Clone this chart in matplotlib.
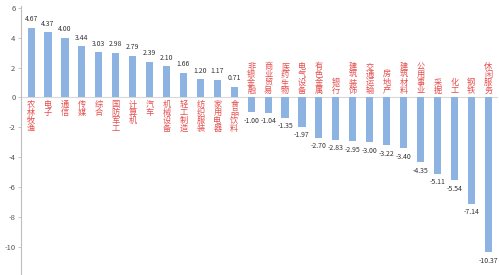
import matplotlib.pyplot as plt

plt.rcParams['font.family'] = ['Noto Sans CJK SC', 'DejaVu Sans']

# 行业名称与涨跌幅(%)
sectors = ['农林牧渔', '电子', '通信', '传媒', '综合', '国防军工', '计算机', '汽车',
           '机械设备', '轻工制造', '纺织服装', '家用电器', '食品饮料', '非银金融',
           '商业贸易', '医药生物', '电气设备', '有色金属', '银行', '建筑装饰',
           '交通运输', '房地产', '建筑材料', '公用事业', '采掘', '化工', '钢铁',
           '休闲服务']
values = [4.67, 4.37, 4.00, 3.44, 3.03, 2.98, 2.79, 2.39, 2.10, 1.66, 1.20, 1.17,
          0.71, -1.00, -1.04, -1.35, -1.97, -2.70, -2.83, -2.95, -3.00, -3.22,
          -3.40, -4.35, -5.11, -5.54, -7.14, -10.37]
y_ticks = [6, 4, 2, 0, -2, -4, -6, -8, -10]

fig = plt.figure(figsize=(4.99, 2.75), dpi=100)
ax = fig.add_axes([0.042, 0.0, 0.955, 0.977])

x = list(range(len(values)))
ax.bar(x, values, width=0.42, color='#8db3e2', zorder=2)
ax.axhline(0, color='#d9d9d9', lw=0.8, zorder=1)

pitch = 5.7  # 竖排文字每个字的间距(pt)
for i, (name, v) in enumerate(zip(sectors, values)):
    n = len(name)
    for k, ch in enumerate(name):
        if v >= 0:
            dy = -2.3 - pitch * (k + 0.5)
        else:
            dy = 2.3 + pitch * (n - k - 0.5)
        ax.annotate(ch, (i, 0), xytext=(0, dy), textcoords='offset points',
                    ha='center', va='center', color='#e64d4d', fontsize=5.9)
    if v >= 0:
        ax.text(i, v + 0.3, f'{v:.2f}', ha='center', va='bottom',
                fontsize=5, color='#333333')
    else:
        ax.text(i, v - 0.3, f'{v:.2f}', ha='center', va='top',
                fontsize=5, color='#333333')

ax.set_xlim(-0.6, len(values) - 0.45)
ax.set_ylim(-11.9, 6.1)
ax.set_yticks(y_ticks)
ax.set_yticklabels([str(t) for t in y_ticks])
ax.tick_params(axis='y', labelsize=5.5, colors='#555555', length=2, width=0.6,
               color='#bfbfbf', pad=2)
ax.set_xticks([])
for s in ['top', 'right', 'bottom']:
    ax.spines[s].set_visible(False)
ax.spines['left'].set_color('#bfbfbf')
ax.spines['left'].set_linewidth(0.8)

fig.savefig('out.png', dpi=100)
